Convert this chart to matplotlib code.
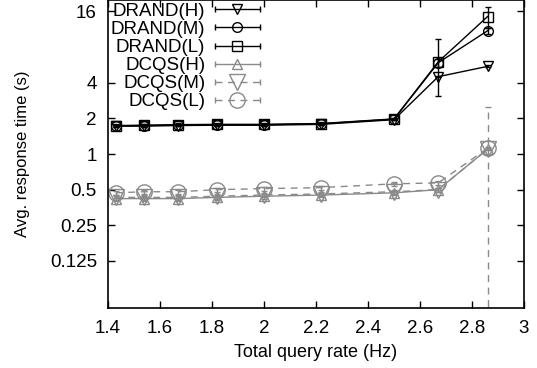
import matplotlib
matplotlib.use("Agg")
import matplotlib.pyplot as plt
from matplotlib.lines import Line2D
from matplotlib.legend_handler import HandlerTuple, HandlerLine2D
from matplotlib.ticker import FixedLocator, FixedFormatter, NullLocator

plt.rcParams['font.family'] = ['Liberation Sans', 'DejaVu Sans']

# query rates (Hz)
rate = [1.43, 1.54, 1.67, 1.82, 2.0, 2.22, 2.5, 2.67, 2.86]

# average response time (s) per scheme / load level
drand_h = [1.72, 1.72, 1.74, 1.75, 1.75, 1.78, 1.95, 4.5, 5.5]
drand_m = [1.73, 1.74, 1.76, 1.77, 1.77, 1.80, 1.97, 5.9, 11.0]
drand_l = [1.74, 1.75, 1.77, 1.78, 1.78, 1.81, 1.98, 6.0, 14.5]
dcqs_h = [0.42, 0.42, 0.42, 0.43, 0.44, 0.45, 0.47, 0.50, 1.10]
dcqs_m = [0.43, 0.43, 0.43, 0.44, 0.45, 0.46, 0.48, 0.50, 1.10]
dcqs_l = [0.47, 0.48, 0.48, 0.50, 0.51, 0.52, 0.56, 0.57, 1.12]

# error half-widths (lower, upper)
drand_h_err = [[0.03] * 8 + [0.1], [0.03] * 8 + [0.1]]
drand_m_err = [[0.04] * 7 + [0.5, 0.6], [0.04] * 7 + [0.5, 0.6]]
drand_l_err = [[0.05] * 7 + [2.9, 2.8], [0.05] * 7 + [3.4, 2.8]]
dcqs_h_err = [[0.02] * 9, [0.02] * 9]
dcqs_m_err = [[0.02] * 8 + [1.099], [0.02] * 8 + [1.4]]
dcqs_l_err = [[0.02] * 9, [0.02] * 9]

labels = ['DRAND(H)', 'DRAND(M)', 'DRAND(L)', 'DCQS(H)', 'DCQS(M)', 'DCQS(L)']
yticks = [0.125, 0.25, 0.5, 1, 2, 4, 16]
ytick_labels = ['0.125', '0.25', '0.5', '1', '2', '4', '16']
xticks = [1.4, 1.6, 1.8, 2.0, 2.2, 2.4, 2.6, 2.8, 3.0]
xtick_labels = ['1.4', '1.6', '1.8', '2', '2.2', '2.4', '2.6', '2.8', '3']

grey = '#8a8a8a'
series = [
    (drand_h, drand_h_err, 'k', '-', 'v', 7),
    (drand_m, drand_m_err, 'k', '-', 'o', 7),
    (drand_l, drand_l_err, 'k', '-', 's', 7),
    (dcqs_h, dcqs_h_err, grey, '-', '^', 7),
    (dcqs_m, dcqs_m_err, grey, (0, (5, 4)), 'v', 11),
    (dcqs_l, dcqs_l_err, grey, (0, (5, 4)), 'o', 11),
]

fig = plt.figure(figsize=(5.37, 3.68), dpi=100)
ax = fig.add_axes([0.2011, 0.163, 0.7747, 0.837])

handles = []
hmap = {}
for (y, err, c, ls, m, ms), lab in zip(series, labels):
    _, caps, bars = ax.errorbar(rate, y, yerr=err, color=c, ls=ls, lw=1.0,
                                marker=m, ms=ms, mfc='none', mec=c, mew=1.0,
                                capsize=2.5, elinewidth=1.0)
    for b in bars:
        b.set_linestyle(ls)
    # legend sample: line with end caps plus the marker in the middle
    bar = Line2D([], [], color=c, ls=ls, lw=1.0, marker='|', ms=5, mew=1.0)
    mk = Line2D([], [], ls='none', marker=m, ms=ms, mfc='none', mec=c, mew=1.0)
    hmap[mk] = HandlerLine2D(numpoints=1)
    handles.append((bar, mk))

ax.set_yscale('log')
ax.set_xlim(1.4, 3.0)
ax.set_ylim(0.05, 20)
ax.yaxis.set_major_locator(FixedLocator(yticks))
ax.yaxis.set_major_formatter(FixedFormatter(ytick_labels))
ax.yaxis.set_minor_locator(NullLocator())
ax.set_xticks(xticks)
ax.set_xticklabels(xtick_labels)
ax.tick_params(direction='in', top=True, right=True, length=5, width=1,
               labelsize=13.5, pad=8)
ax.tick_params(axis='x', pad=8.5)
for s in ax.spines.values():
    s.set_linewidth(1.2)

ax.set_xlabel('Total query rate (Hz)', fontsize=13, labelpad=5.5)
ax.set_ylabel('Avg. response time (s)', fontsize=12, labelpad=14)

hmap[tuple] = HandlerTuple(ndivide=1, pad=0)
leg = ax.legend(handles, labels, handler_map=hmap,
                loc='upper left', bbox_to_anchor=(0.0, 1.0), frameon=False,
                markerfirst=False, numpoints=2, handlelength=3.0,
                fontsize=13.5, labelspacing=0.05, handletextpad=0.2,
                borderaxespad=0.0, borderpad=0.15)

fig.savefig('out.png', dpi=100)
